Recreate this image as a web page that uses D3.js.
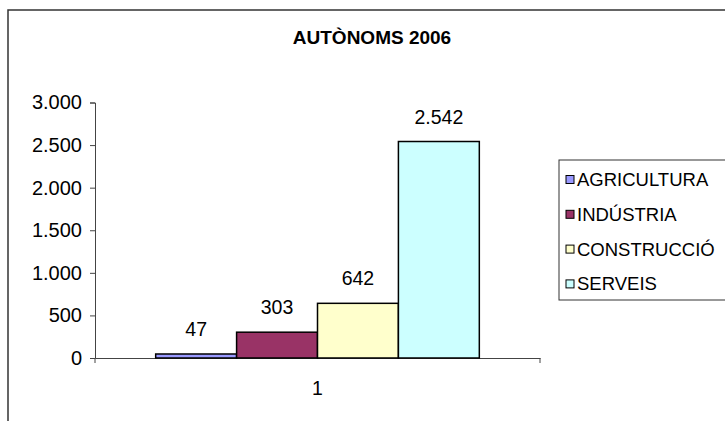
<!DOCTYPE html>
<html>
<head>
<meta charset="utf-8">
<script src="https://cdn.jsdelivr.net/npm/d3@7"></script>
<style>
  body { margin: 0; background: #fff; }
  svg text { font-family: "Liberation Sans", Arial, sans-serif; fill: #000; }
</style>
</head>
<body>
<div id="chart"></div>
<script>
// data
const title = "AUTÒNOMS 2006";
const categories = ["1"];
const seriesNames = ["AGRICULTURA", "INDÚSTRIA", "CONSTRUCCIÓ", "SERVEIS"];
const seriesValues = [47, 303, 642, 2542];
const seriesColors = ["#9999FF", "#993366", "#FFFFCC", "#CCFFFF"];
const yTicks = [0, 500, 1000, 1500, 2000, 2500, 3000];

const width = 725, height = 421;
const plot = { left: 95, right: 540, top: 102.5, bottom: 358 };
const fontSize = "19.5px";

const locale = d3.formatLocale({ decimal: ",", thousands: ".", grouping: [3], currency: ["", "€"] });
const fmt = locale.format(",d");

const svg = d3.select("#chart").append("svg")
    .attr("width", width)
    .attr("height", height);

// chart frame (cut off on the right and bottom)
svg.append("rect")
    .attr("x", 8).attr("y", 10)
    .attr("width", 800).attr("height", 500)
    .attr("fill", "#fff")
    .attr("stroke", "#333")
    .attr("stroke-width", 1.5);

svg.append("text")
    .attr("x", 372).attr("y", 44)
    .attr("text-anchor", "middle")
    .style("font-size", "19px")
    .style("font-weight", "bold")
    .text(title);

var yScale = d3.scaleLinear().domain([0, 3000]).range([plot.bottom, plot.top]);
var x0 = d3.scaleBand().domain(categories).range([plot.left, plot.right])
    .paddingInner(0).paddingOuter(0.1875);
var x1 = d3.scaleBand().domain(seriesNames).range([0, x0.bandwidth()]);

// y axis
var yAxis = svg.append("g")
    .attr("transform", "translate(" + plot.left + ",0)")
    .call(d3.axisLeft(yScale).tickValues(yTicks).tickFormat(fmt).tickSize(5).tickPadding(8));
yAxis.select(".domain").attr("stroke", "#444");
yAxis.selectAll(".tick line").attr("stroke", "#444");
yAxis.selectAll(".tick text")
    .style("font-size", "20px")
    .style("font-family", "'Liberation Sans', Arial, sans-serif");

// x axis
var xAxis = svg.append("g")
    .attr("transform", "translate(0," + plot.bottom + ")")
    .call(d3.axisBottom(x0).tickSize(0).tickPadding(23));
xAxis.select(".domain").attr("stroke", "#444");
xAxis.selectAll(".tick text")
    .style("font-size", fontSize)
    .style("font-family", "'Liberation Sans', Arial, sans-serif");
// boundary ticks below the category axis
xAxis.selectAll("line.edge")
    .data(x0.range())
    .join("line")
    .attr("class", "edge")
    .attr("x1", d => d).attr("x2", d => d)
    .attr("y1", 0).attr("y2", 5)
    .attr("stroke", "#444");

var rows = seriesNames.map((s, i) => ({ name: s, value: seriesValues[i], color: seriesColors[i], cat: categories[0] }));

svg.selectAll("rect.bar")
    .data(rows)
    .join("rect")
    .attr("class", "bar")
    .attr("x", d => x0(d.cat) + x1(d.name))
    .attr("y", d => yScale(d.value))
    .attr("width", x1.bandwidth())
    .attr("height", d => yScale(0) - yScale(d.value))
    .attr("fill", d => d.color)
    .attr("stroke", "#000")
    .attr("stroke-width", 1.5);

svg.selectAll("text.label")
    .data(rows)
    .join("text")
    .attr("class", "label")
    .attr("x", d => x0(d.cat) + x1(d.name) + x1.bandwidth() / 2)
    .attr("y", d => yScale(d.value) - 18)
    .attr("text-anchor", "middle")
    .style("font-size", fontSize)
    .text(d => fmt(d.value));

// legend
var legend = svg.append("g").attr("class", "legend");
legend.append("rect")
    .attr("x", 559).attr("y", 160)
    .attr("width", 200).attr("height", 140)
    .attr("fill", "#fff")
    .attr("stroke", "#333")
    .attr("stroke-width", 1);

var item = legend.selectAll("g.item")
    .data(rows)
    .join("g")
    .attr("class", "item")
    .attr("transform", (d, i) => "translate(566," + (179.5 + i * 34.8) + ")");
item.append("rect")
    .attr("x", 0).attr("y", -4)
    .attr("width", 8).attr("height", 8)
    .attr("fill", d => d.color)
    .attr("stroke", "#000")
    .attr("stroke-width", 1);
item.append("text")
    .attr("x", 11).attr("y", 6.5)
    .style("font-size", "18.5px")
    .text(d => d.name);
</script>
</body>
</html>
